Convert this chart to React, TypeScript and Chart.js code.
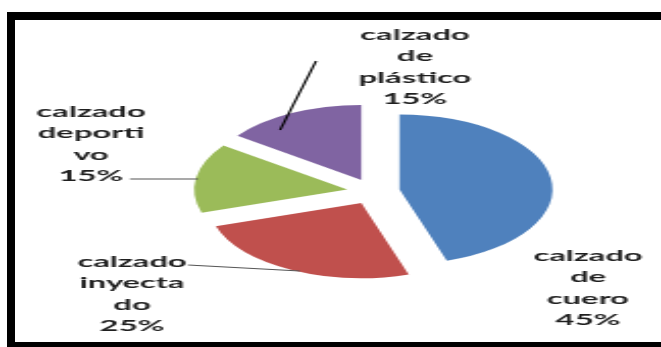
import React, { useEffect, useRef } from 'react';
import { Chart, registerables } from 'chart.js';

Chart.register(...registerables);

// ---- data ----
const categories = ['calzado de cuero', 'calzado inyectado', 'calzado deportivo', 'calzado de plástico'];
const values = [45, 25, 15, 15];
const labelLines = [
  ['calzado', 'de', 'cuero'],
  ['calzado', 'inyecta', 'do'],
  ['calzado', 'deporti', 'vo'],
  ['calzado', 'de', 'plástico'],
];
const colors = ['#4F81BD', '#C0504D', '#9BBB59', '#8064A2'];

// ---- layout (internal canvas units; the canvas is stretched horizontally) ----
const STRETCH = 2.04;
const CW = 324;
const CH = 347;
const EXPLODE = 13;
const RADIUS = 75;

type Place = { x: number; y: number; line?: [number, number, number, number]; lineColor?: string };
const labelPlaces: Place[] = [
  { x: 288.2, y: 261 },
  { x: 64.7, y: 267, line: [92.2, 265, 147, 271], lineColor: '#555555' },
  { x: 44.6, y: 117, line: [63.7, 179, 97.1, 179], lineColor: '#555555' },
  { x: 203.4, y: 40, line: [154.9, 61, 137.3, 130], lineColor: '#000000' },
];

const explodePlugin = {
  id: 'explode',
  afterDatasetsUpdate(chart: any) {
    const meta = chart.getDatasetMeta(0);
    meta.data.forEach((arc: any) => {
      const mid = (arc.startAngle + arc.endAngle) / 2;
      arc.x += Math.cos(mid) * EXPLODE;
      arc.y += Math.sin(mid) * EXPLODE;
    });
  },
};

const labelPlugin = {
  id: 'sliceLabels',
  afterDatasetsDraw(chart: any) {
    const ctx = chart.ctx;
    const total = values.reduce((a, b) => a + b, 0);
    ctx.save();
    labelPlaces.forEach((p, i) => {
      if (p.line) {
        ctx.beginPath();
        ctx.strokeStyle = p.lineColor || '#555';
        ctx.lineWidth = p.lineColor === '#000000' ? 1.1 : 1.2;
        ctx.moveTo(p.line[0], p.line[1]);
        ctx.lineTo(p.line[2], p.line[3]);
        ctx.stroke();
      }
      const lines = [...labelLines[i], Math.round((values[i] / total) * 100) + '%'];
      ctx.fillStyle = '#1f1f1f';
      ctx.font = '700 16px Lato';
      ctx.textAlign = 'center';
      ctx.textBaseline = 'alphabetic';
      lines.forEach((t, k) => {
        ctx.fillText(t, p.x, p.y + k * 21.3);
      });
    });
    ctx.restore();
  },
};

export default function App() {
  const ref = useRef<HTMLCanvasElement>(null);
  useEffect(() => {
    if (!ref.current) return;
    const chart = new Chart(ref.current, {
      type: 'pie',
      data: {
        labels: categories,
        datasets: [
          {
            data: values,
            backgroundColor: colors,
            borderWidth: 0,
          },
        ],
      },
      options: {
        responsive: false,
        animation: false,
        devicePixelRatio: 1,
        radius: RADIUS,
        layout: { padding: { left: 50, right: 8, top: 50, bottom: 14 } },
        plugins: {
          legend: { display: false },
          tooltip: { enabled: false },
          title: { display: false },
        },
        events: [],
      } as any,
      plugins: [explodePlugin, labelPlugin],
    });
    return () => chart.destroy();
  }, []);

  return (
    <div style={{ position: 'fixed', left: 0, top: 0, width: 661, height: 347, background: '#fff', overflow: 'hidden' }}>
      <canvas
        ref={ref}
        width={CW}
        height={CH}
        style={{ position: 'absolute', left: 0, top: 0, width: `${CW * STRETCH}px`, height: `${CH}px` }}
      />
      <div
        style={{
          position: 'absolute',
          left: 7,
          top: 12,
          width: 680,
          height: 338,
          border: '8px solid #000',
          boxSizing: 'border-box',
        }}
      />
    </div>
  );
}
